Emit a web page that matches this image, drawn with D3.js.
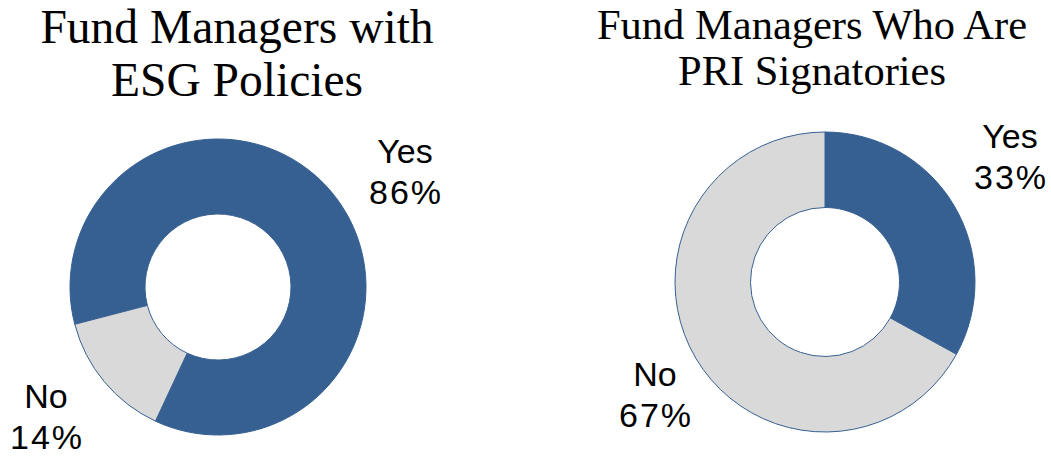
<!DOCTYPE html>
<html>
<head>
<meta charset="utf-8">
<script src="https://cdn.jsdelivr.net/npm/d3@7"></script>
<style>
  body { margin: 0; background: #fff; }
  .title { font-family: "Liberation Serif", "Times New Roman", serif; fill: #000; text-anchor: middle; }
  .label { font-family: "Liberation Sans", Arial, sans-serif; fill: #000; text-anchor: middle; }
</style>
</head>
<body>
<svg id="chart" width="1051" height="459"></svg>
<script>
"use strict";

// values
const categories = ["Yes", "No"];
const esgValues = [86, 14];
const priValues = [33, 67];
const esgTitle = ["Fund Managers with", "ESG Policies"];
const priTitle = ["Fund Managers Who Are", "PRI Signatories"];

const colors = d3.scaleOrdinal()
  .domain(categories)
  .range(["#376092", "#d9d9d9"]);

let svg = d3.select("#chart");

// layout for each donut (label offsets = first-line baseline, relative to centre)
let charts = [
  {
    values: esgValues, title: esgTitle,
    cx: 218, cy: 287, outer: 148, inner: 73,
    start: -104.6,
    titleX: 237, titleY: [43, 96], titleSize: 47.5,
    labelOffsets: [[187, -124], [-172, 121]],
  },
  {
    values: priValues, title: priTitle,
    cx: 825, cy: 282, outer: 150, inner: 74.5,
    start: 0,
    titleX: 812, titleY: [39, 85], titleSize: 42.5,
    labelOffsets: [[185, -134], [-170, 104]],
  },
];

charts.forEach(c => {
  let rad = c.start * Math.PI / 180;
  let pie = d3.pie()
    .sort(null)
    .value(d => d.value)
    .startAngle(rad)
    .endAngle(rad + 2 * Math.PI);

  let arc = d3.arc()
    .innerRadius(c.inner)
    .outerRadius(c.outer);

  let data = categories.map((k, i) => ({ key: k, value: c.values[i] }));

  let g = svg.append("g")
    .attr("transform", `translate(${c.cx},${c.cy})`);

  g.selectAll("path")
    .data(pie(data))
    .join("path")
      .attr("d", arc)
      .attr("fill", d => colors(d.data.key))
      .attr("stroke", "#376092")
      .attr("stroke-width", 1);

  // category + percent labels, two lines each
  let labels = g.selectAll("text.label")
    .data(pie(data))
    .join("text")
      .attr("class", "label")
      .style("font-size", "34px")
      .attr("transform", (d, i) => `translate(${c.labelOffsets[i][0]},${c.labelOffsets[i][1]})`);
  labels.append("tspan")
    .attr("x", 0)
    .attr("y", 0)
    .text(d => d.data.key);
  labels.append("tspan")
    .attr("x", 1)
    .attr("y", 41)
    .style("letter-spacing", "2px")
    .text(d => d.data.value + "%");

  // title
  svg.append("text")
    .attr("class", "title")
    .style("font-size", c.titleSize + "px")
    .selectAll("tspan")
    .data(c.title)
    .join("tspan")
      .attr("x", c.titleX)
      .attr("y", (d, i) => c.titleY[i])
      .text(d => d);
});
</script>
</body>
</html>
